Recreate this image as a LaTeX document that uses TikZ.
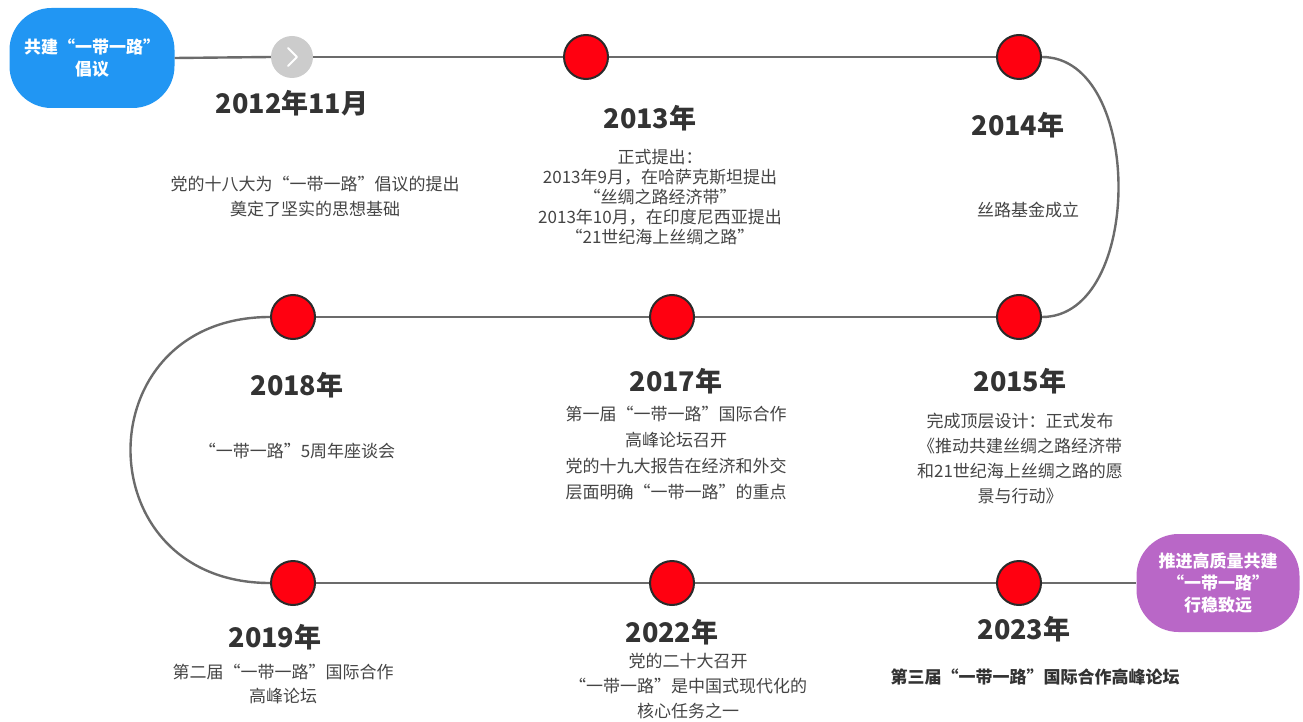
\documentclass[tikz,border=0pt]{standalone}
\usepackage{fontspec}
\setmainfont{Noto Sans CJK SC}
\usetikzlibrary{positioning,calc}
\definecolor{linegray}{HTML}{6B6B6B}
\definecolor{yeargray}{HTML}{333333}
\definecolor{bodygray}{HTML}{444444}
\definecolor{dotred}{HTML}{FF0010}
\definecolor{dotedge}{HTML}{2A2A2A}
\definecolor{startblue}{HTML}{2196F3}
\definecolor{endpurple}{HTML}{B967C7}
\definecolor{chevgray}{HTML}{CCCCCC}
\tikzset{
  timeline/.style={draw=linegray, line width=2.4pt},
  reddot/.style={circle, draw=dotedge, line width=2pt, fill=dotred, minimum size=44pt, inner sep=0pt},
  greydot/.style={circle, fill=chevgray, minimum size=42pt, inner sep=0pt},
  yearlabel/.style={font=\fontsize{27}{30}\selectfont\bfseries, text=yeargray, inner sep=0pt},
  bodytext/.style={font=\fontsize{17}{25}\selectfont, text=bodygray, align=center, inner sep=0pt},
  endbox/.style={rounded corners=42pt, text=white, align=center, font=\fontsize{17}{22}\selectfont\bfseries, inner sep=0pt}
}
\begin{document}
\begin{tikzpicture}[x=1pt,y=-1pt]
\useasboundingbox (0,0) rectangle (1303,722);
% start and end boxes
\node[endbox, fill=startblue, minimum width=165pt, minimum height=100pt] (start) at (92,58) {共建“一带一路”\\倡议};
\node[endbox, fill=endpurple, minimum width=163pt, minimum height=98pt] (finish) at (1218,583) {推进高质量共建\\“一带一路”\\行稳致远};
% dots
\node[greydot] (d2012) at (292,57) {};
\node[reddot] (d2013) at (586,57) {};
\node[reddot] (d2014) at (1019,57) {};
\node[reddot] (d2015) at (1019,317) {};
\node[reddot] (d2017) at (672,317) {};
\node[reddot] (d2018) at (293,317) {};
\node[reddot] (d2019) at (293,583) {};
\node[reddot] (d2022) at (672,583) {};
\node[reddot] (d2023) at (1019,583) {};
% timeline connectors
\draw[timeline] (start.east) -- (d2012.west);
\draw[timeline] (d2012.east) -- (d2013.west);
\draw[timeline] (d2013.east) -- (d2014.west);
\draw[timeline] (d2014.east) .. controls (1144,57) and (1144,317) .. (d2015.east);
\draw[timeline] (d2015.west) -- (d2017.east);
\draw[timeline] (d2017.west) -- (d2018.east);
\draw[timeline] (d2018.west) .. controls (84,317) and (84,583) .. (d2019.west);
\draw[timeline] (d2019.east) -- (d2022.west);
\draw[timeline] (d2022.east) -- (d2023.west);
\draw[timeline] (d2023.east) -- (finish.west);
% chevron on grey dot
\draw[white, line width=2pt, line cap=round, line join=round] ($(d2012)+(-4,-9)$) -- ($(d2012)+(5,0)$) -- ($(d2012)+(-4,9)$);
% year labels
\node[yearlabel] (y2012) at (292,103) {2012年11月};
\node[yearlabel] (y2013) at (650,118) {2013年};
\node[yearlabel] (y2014) at (1018,125) {2014年};
\node[yearlabel] (y2018) at (297,385) {2018年};
\node[yearlabel] (y2017) at (676,381) {2017年};
\node[yearlabel] (y2015) at (1020,381) {2015年};
\node[yearlabel] (y2019) at (275,637) {2019年};
\node[yearlabel] (y2022) at (672,632) {2022年};
\node[yearlabel] (y2023) at (1024,629) {2023年};
% bodies
\node[bodytext] (b2012) at (315,197) {党的十八大为“一带一路”倡议的提出\\奠定了坚实的思想基础};
\node[bodytext, font=\fontsize{17}{20}\selectfont] (b2013) at (660,197) {正式提出：\\2013年9月，在哈萨克斯坦提出\\“丝绸之路经济带”\\2013年10月，在印度尼西亚提出\\“21世纪海上丝绸之路”};
\node[bodytext] (b2014) at (1028,210) {丝路基金成立};
\node[bodytext] (b2018) at (297,451) {“一带一路”5周年座谈会};
\node[bodytext, font=\fontsize{17}{26}\selectfont] (b2017) at (676,453) {第一届“一带一路”国际合作\\高峰论坛召开\\党的十九大报告在经济和外交\\层面明确“一带一路”的重点};
\node[bodytext] (b2015) at (1020,459) {完成顶层设计：正式发布\\《推动共建丝绸之路经济带\\和21世纪海上丝绸之路的愿\\景与行动》};
\node[bodytext, font=\fontsize{17}{24}\selectfont] (b2019) at (283,684) {第二届“一带一路”国际合作\\高峰论坛};
\node[bodytext] (b2022) at (688,686) {党的二十大召开\\“一带一路”是中国式现代化的\\核心任务之一};
\node[bodytext, font=\fontsize{17}{25}\selectfont\bfseries, text=yeargray] (b2023) at (1035,677) {第三届“一带一路”国际合作高峰论坛};
\end{tikzpicture}
\end{document}
